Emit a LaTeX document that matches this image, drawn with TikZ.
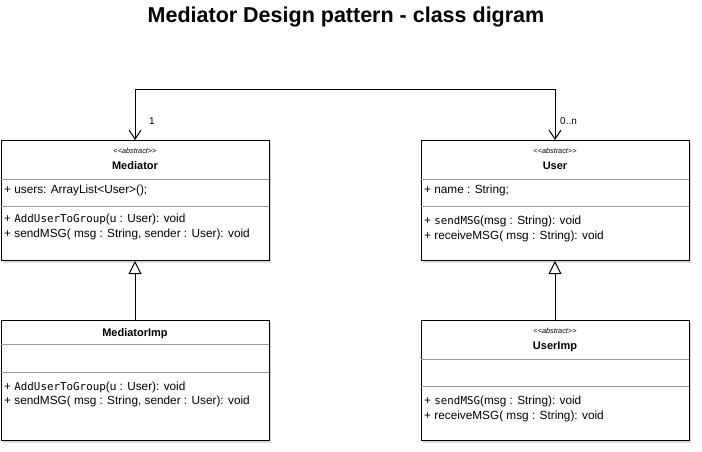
\documentclass[tikz,border=0pt]{standalone}
\usepackage{fontspec}
\setmainfont{Liberation Sans}
\newfontfamily\monofont{DejaVu Sans Mono}[Scale=0.92]
\usetikzlibrary{arrows.meta,shadows}
\newcommand{\abstractstereo}{\textless\kern0pt\textless\kern0pt abstract\kern0pt\textgreater\kern0pt\textgreater}
\begin{document}
\begin{tikzpicture}[x=1pt,y=-1pt,
  classbox/.style={draw=black, line width=1pt, fill=white, minimum width=268pt, minimum height=120pt, inner sep=0pt,
    drop shadow={shadow xshift=2pt, shadow yshift=-2pt, opacity=0.3, fill=gray}},
  sepline/.style={draw=gray!80, line width=0.8pt},
  stereo/.style={anchor=base, inner sep=0pt, font=\fontsize{7.3}{8}\selectfont\itshape},
  cname/.style={anchor=base, inner sep=0pt, font=\fontsize{11}{13}\selectfont\bfseries},
  member/.style={anchor=base west, inner sep=0pt, font=\fontsize{11.8}{14}\selectfont},
  assoc/.style={draw=black, line width=1pt, {Straight Barb[length=9pt,width=12pt]}-{Straight Barb[length=9pt,width=12pt]}},
  inherit/.style={draw=black, line width=1pt, -{Triangle[open,length=13pt,width=13pt,fill=white]}},
  mult/.style={inner sep=0pt, font=\fontsize{10}{12}\selectfont},
  titlefont/.style={anchor=base, inner sep=0pt, font=\fontsize{21.5}{24}\selectfont\bfseries}
]
\useasboundingbox (0,0) rectangle (702,452);

% title
\node[titlefont] (title) at (346,23) {Mediator Design pattern - class digram};

% boxes
\node[classbox] (med) at (135,200.5) {};
\node[classbox] (user) at (555,200.5) {};
\node[classbox] (medimp) at (135,380.5) {};
\node[classbox] (userimp) at (555,380.5) {};

% separators
\draw[sepline] (1,179) -- (269,179);
\draw[sepline] (1,206) -- (269,206);
\draw[sepline] (421,179) -- (689,179);
\draw[sepline] (421,206) -- (689,206);
\draw[sepline] (1,344) -- (269,344);
\draw[sepline] (1,372) -- (269,372);
\draw[sepline] (421,359) -- (689,359);
\draw[sepline] (421,386) -- (689,386);

% Mediator
\node[stereo] (medst) at (135,153) {\abstractstereo};
\node[cname] (medname) at (135,169) {Mediator};
\node[member] (meda1) at (4,193) {+ users: ArrayList\textless User\textgreater();};
\node[member] (medm1) at (4,222) {+ {\monofont AddUserToGroup}(u : User): void};
\node[member] (medm2) at (4,237) {+ sendMSG( msg : String, sender : User): void};

% User
\node[stereo] (userst) at (555,153) {\abstractstereo};
\node[cname] (username) at (555,169) {User};
\node[member] (usera1) at (424,193) {+ name : String;};
\node[member] (userm1) at (424,224) {+ {\monofont sendMSG}(msg : String): void};
\node[member] (userm2) at (424,239) {+ receiveMSG( msg : String): void};

% MediatorImp
\node[cname] (medimpname) at (135,336) {MediatorImp};
\node[member] (medimpm1) at (4,390) {+ {\monofont AddUserToGroup}(u : User): void};
\node[member] (medimpm2) at (4,404) {+ sendMSG( msg : String, sender : User): void};

% UserImp
\node[stereo] (userimpst) at (555,333) {\abstractstereo};
\node[cname] (userimpname) at (555,349) {UserImp};
\node[member] (userimpm1) at (424,404) {+ {\monofont sendMSG}(msg : String): void};
\node[member] (userimpm2) at (424,419) {+ receiveMSG( msg : String): void};

% association
\coordinate (tl) at (135,90);
\coordinate (tr) at (555,90);
\draw[assoc] (med.north) -- (tl) -- (tr) -- (user.north);
\node[mult, anchor=west] (m1) at (149,121) {1};
\node[mult, anchor=west] (m2) at (560,121) {0..n};

% inheritance
\draw[inherit] (medimp.north) -- (med.south);
\draw[inherit] (userimp.north) -- (user.south);
\end{tikzpicture}
\end{document}
